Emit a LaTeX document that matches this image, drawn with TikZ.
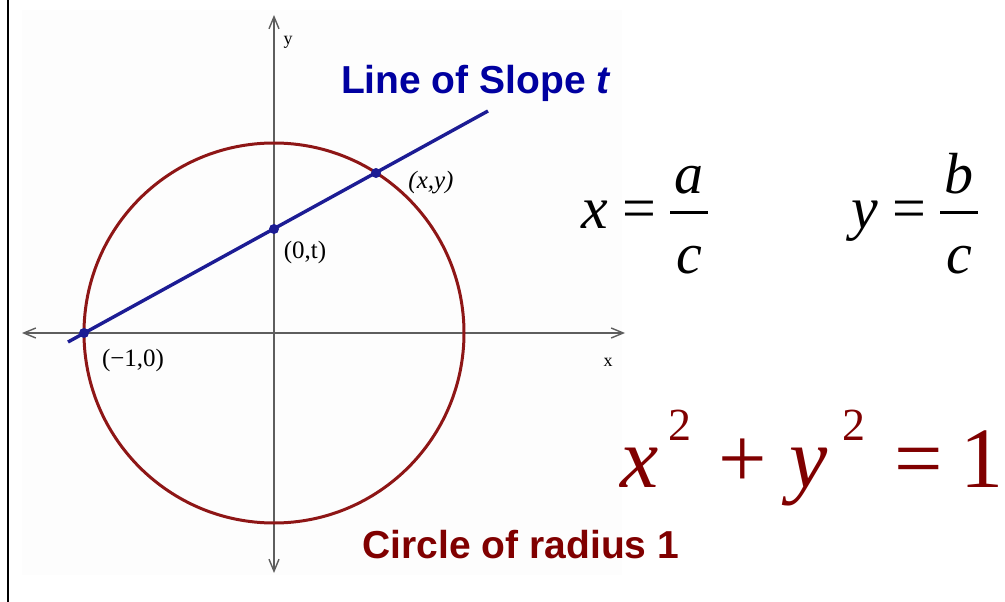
\documentclass[tikz,border=0pt]{standalone}
\usepackage{fontspec}
\setmainfont{Liberation Serif}
\setsansfont{Liberation Sans}
\usetikzlibrary{arrows.meta,positioning}
\definecolor{Axis}{HTML}{5E5E5E}
\definecolor{Navy}{HTML}{1C1C94}
\definecolor{Maroon}{HTML}{8E1616}
\definecolor{TitleBlue}{HTML}{0000A0}
\definecolor{EqRed}{HTML}{800000}
\definecolor{Paper}{HTML}{FDFDFD}

\begin{document}
\begin{tikzpicture}[x=1pt,y=-1pt,
  axis/.style={{Straight Barb[length=12pt,width=10pt]}-{Straight Barb[length=12pt,width=10pt]},line width=1.4pt,draw=Axis},
  dot/.style={circle,fill=Navy,inner sep=0pt,minimum size=10pt},
  lab/.style={font=\fontsize{25}{27}\selectfont,inner sep=0pt},
  axlab/.style={font=\fontsize{18}{20}\selectfont,inner sep=0pt},
  head/.style={font=\sffamily\bfseries\fontsize{39}{44}\selectfont,inner sep=0pt},
  eq/.style={font=\fontsize{60}{66}\selectfont,inner sep=0pt,anchor=base west},
  frac/.style={font=\fontsize{58}{60}\selectfont\itshape,inner sep=0pt,anchor=base},
  bar/.style={line width=3pt},
  big/.style={font=\fontsize{86}{92}\selectfont,inner sep=0pt,anchor=base west,text=EqRed},
  sup/.style={font=\fontsize{46}{48}\selectfont,inner sep=0pt,anchor=base west,text=EqRed}
]
\useasboundingbox (0,0) rectangle (1005,602);
\fill[Paper] (22,10) rectangle (622,575);
\draw[line width=1.5pt] (8,0) -- (8,602);

% axes
\coordinate (xl) at (22,333);
\coordinate (xr) at (625,333);
\coordinate (yt) at (274,15);
\coordinate (yb) at (274,573);
\draw[axis] (xl) -- (xr);
\draw[axis] (yb) -- (yt);
\node[axlab] (ylab) at (288,42) {y};
\node[axlab] (xlab) at (608,362) {x};

% unit circle and the line
\coordinate (O) at (274,333);
\draw[Maroon,line width=3pt] (O) circle[radius=190pt];
\coordinate (s0) at (68,342);
\coordinate (s1) at (488,111);
\draw[Navy,line width=3.4pt] (s0) -- (s1);
\node[dot] (m) at (84,333) {};
\node[dot] (t) at (274,229) {};
\node[dot] (p) at (376,173) {};
\node[lab] (mlab) at (133,360) {(−1,0)};
\node[lab] (tlab) at (305,252) {(0,t)};
\node[lab] (plab) at (431,183) {\textit{(x,y)}};

% captions
\node[head,text=TitleBlue] (slope) at (476,83) {Line of Slope \textit{t}};
\node[head,text=EqRed] (radius) at (521,545) {Circle of radius 1};

% x = a/c and y = b/c
\node[eq] (xeq) at (581,228) {\textit{x} =};
\node[frac] (xa) at (689,193) {a};
\node[frac] (xc) at (689,273) {c};
\coordinate (xbl) at (670,212);
\coordinate (xbr) at (708,212);
\draw[bar] (xbl) -- (xbr);
\node[eq] (yeq) at (851,228) {\textit{y} =};
\node[frac] (yb) at (959,193) {b};
\node[frac] (yc) at (959,273) {c};
\coordinate (ybl) at (940,212);
\coordinate (ybr) at (978,212);
\draw[bar] (ybl) -- (ybr);

% x^2 + y^2 = 1
\node[big] (ux) at (620,487) {\textit{x}};
\node[sup] (ux2) at (668,440) {2};
\node[big] (plus) at (718,487) {+};
\node[big] (uy) at (789,487) {\textit{y}};
\node[sup] (uy2) at (842,440) {2};
\node[big] (eqs) at (894,487) {=};
\node[big] (one) at (960,487) {1};
\end{tikzpicture}
\end{document}
